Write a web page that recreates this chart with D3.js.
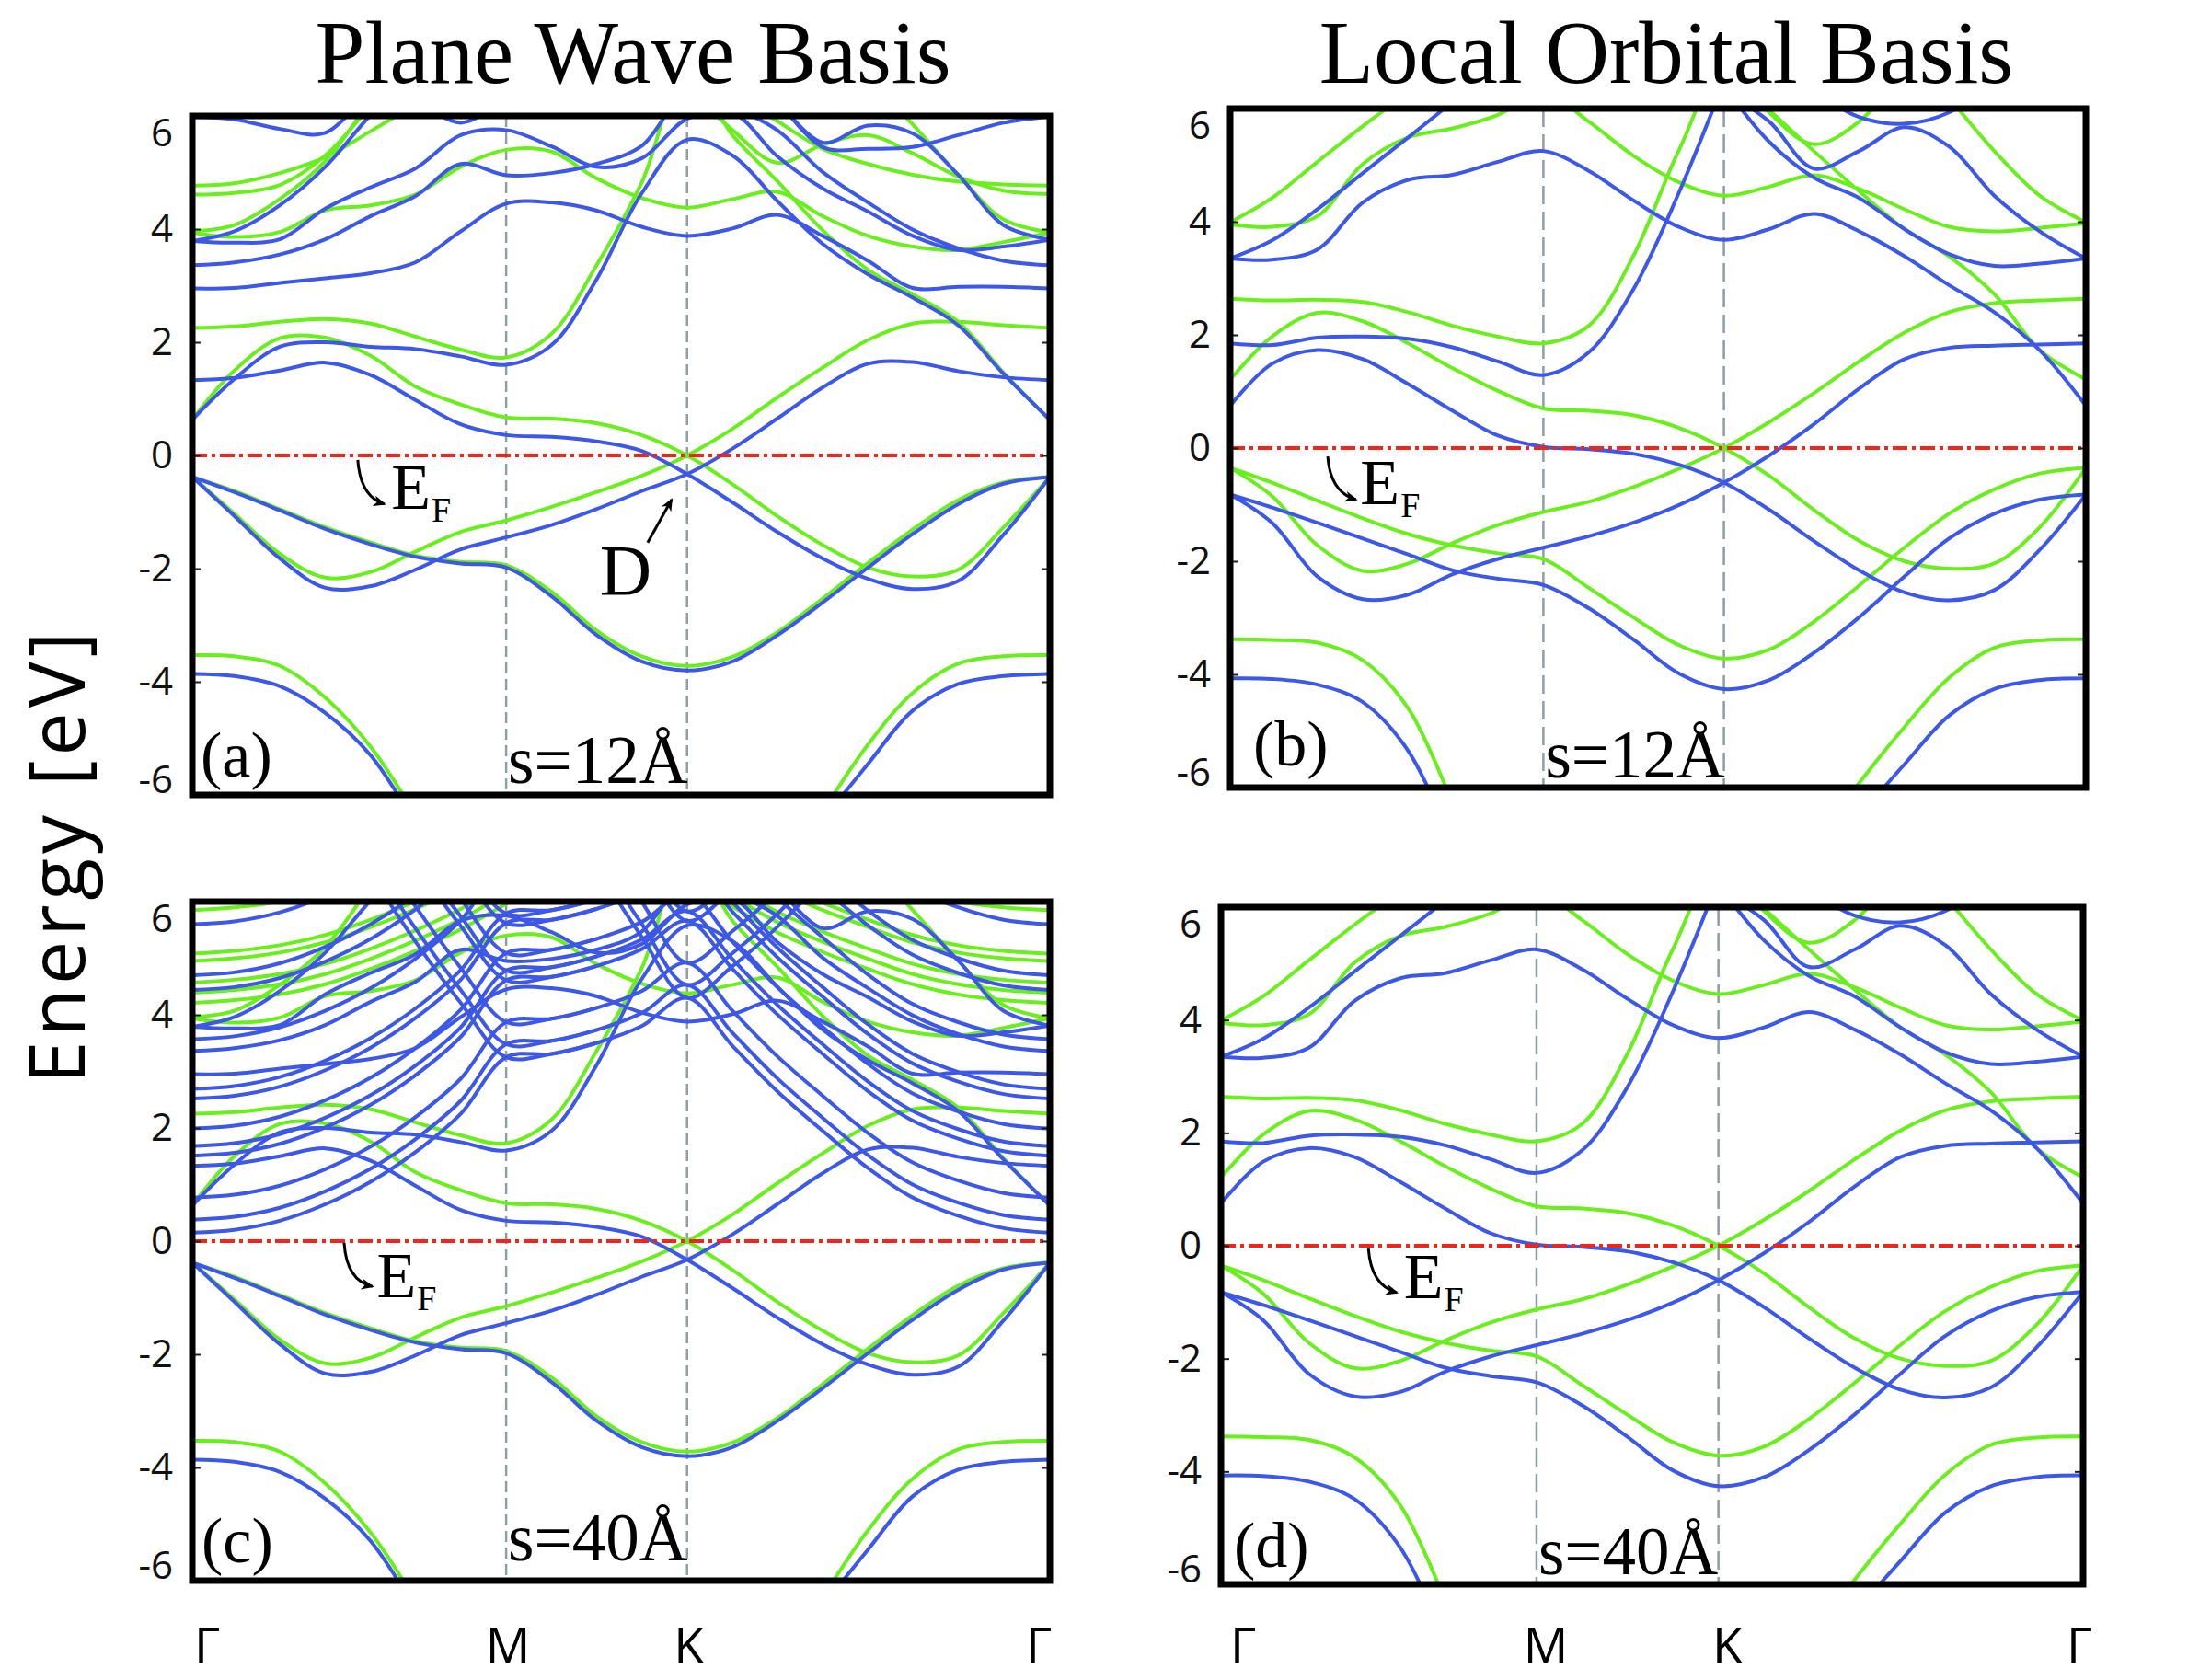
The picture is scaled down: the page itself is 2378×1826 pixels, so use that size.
<!DOCTYPE html>
<meta charset="utf-8">
<head>
  <style>
    body { margin: 0; background: #fff; }
    svg { display: block; background: #fff; }
    .band { fill: none; stroke-width: 4; stroke-linejoin: round; stroke-linecap: round; }
    .band.green { stroke: #6bee1e; }
    .band.blue { stroke: #3d58e6; }
    .sym-line { stroke: #8e9ea6; stroke-width: 2.5; fill: none; }
    .fermi { stroke: #f6231b; stroke-width: 4; stroke-dasharray: 16 5 4 5; }
    .frame { fill: none; stroke: #000; stroke-width: 7; }
    .axis text { font-family: "Open Sans", sans-serif; font-size: 42px; fill: #111; }
    .axis line { stroke: #222; stroke-width: 2; }
    .serif { font-family: "Liberation Serif", "Times New Roman", serif; fill: #000; }
    .sans { font-family: "Open Sans", sans-serif; fill: #000; }
  </style>
</head>
<body>
  <script src="https://d3js.org/d3.v7.min.js"></script>
  <script>
    const _ = null;

    // k path Γ-M-K-Γ, sampled positions (fraction of path length)
    const kPath = [0, 0.049, 0.102, 0.155, 0.208, 0.26, 0.313, 0.366, 0.419, 0.471,
                   0.524, 0.577, 0.63, 0.682, 0.735, 0.788, 0.84, 0.893, 0.946, 1];
    const kPoints = [0, 0.366, 0.577, 1];
    const kNames = ["Γ", "M", "K", "Γ"];
    const energyTicks = [-6, -4, -2, 0, 2, 4, 6];
    const energyRange = [-6, 6];

    // ---- plane wave basis, s = 12 Å ----
    const pwGreen1 = [-3.53, -3.55, -3.72, -4.28, -5.15, -6.35, _, _, _, _, _, _, _, _, -6.3, -5.11, -4.2, -3.68, -3.55, -3.53];
    const pwBlue1  = [-3.86, -3.9, -4.08, -4.55, -5.3, -6.5, _, _, _, _, _, _, _, _, -6.45, -5.45, -4.51, -4.04, -3.9, -3.86];
    const pwGreen2 = [-0.38, -0.63, -0.95, -1.27, -1.54, -1.77, -1.88, -1.94, -2.41, -3.09, -3.55, -3.72, -3.56, -3.13, -2.53, -1.9, -1.31, -0.79, -0.48, -0.38];
    const pwBlue2  = [-0.38, -0.65, -0.97, -1.3, -1.57, -1.79, -1.91, -1.98, -2.49, -3.17, -3.64, -3.8, -3.64, -3.18, -2.6, -1.98, -1.39, -0.86, -0.5, -0.38];
    const pwGreen3 = [-0.38, -1.03, -1.74, -2.16, -2.06, -1.7, -1.35, -1.15, -0.91, -0.65, -0.36, 0, 0.47, 1.02, 1.55, 2.04, 2.33, 2.36, 2.3, 2.25];
    const pwBlue3  = [-0.38, -1.07, -1.82, -2.34, -2.31, -2.02, -1.66, -1.45, -1.23, -0.95, -0.63, -0.33, 0.12, 0.65, 1.2, 1.62, 1.65, 1.49, 1.38, 1.33];
    const pwGreen4 = [0.63, 1.5, 2.07, 2.08, 1.76, 1.22, 0.9, 0.67, 0.65, 0.57, 0.36, 0, -0.51, -1.07, -1.58, -1.98, -2.14, -2.02, -1.27, -0.38];
    const pwBlue4  = [1.33, 1.37, 1.5, 1.64, 1.42, 0.98, 0.55, 0.36, 0.33, 0.25, 0.08, -0.33, -0.83, -1.35, -1.82, -2.18, -2.36, -2.22, -1.4, -0.38];
    const pwGreen5 = [2.25, 2.28, 2.36, 2.41, 2.33, 2.1, 1.87, 1.73, 2.15, 3.35, 4.82, 6.8, 5.66, 4.85, 3.98, 3.28, 2.85, 2.36, 1.46, 0.63];
    const pwBlue5  = [0.63, 1.35, 1.92, 2.0, 1.92, 1.88, 1.75, 1.6, 1.95, 3.1, 4.63, 5.58, 5.3, 4.5, 3.74, 3.2, 2.79, 2.3, 1.44, 0.63];
    const pwGreen6 = [3.94, 3.86, 3.95, 4.33, 4.42, 4.61, 5.1, 5.4, 5.37, 4.9, 4.55, 4.38, 4.53, 4.66, 4.23, 3.88, 3.69, 3.63, 3.77, 3.94];
    const pwGreen7 = [3.96, 4.07, 4.53, 5.2, 6.3, _, _, _, _, _, _, _, _, _, _, 6.7, 5.85, 4.96, 4.17, 3.94];
    const pwGreen8 = [4.77, 4.81, 4.99, 5.27, 5.73, 6.2, _, _, _, _, _, _, 6.4, 5.91, 5.42, 5.15, 4.96, 4.84, 4.79, 4.77];
    const pwGreen9 = [4.61, 4.64, 4.78, 5.3, 6.2, _, _, _, _, _, _, 6.5, 5.75, 5.17, 5.49, 5.66, 5.34, 4.93, 4.68, 4.62];
    const pwBlue6  = [2.95, 2.96, 3.05, 3.13, 3.22, 3.41, 3.96, 4.45, 4.47, 4.33, 4.04, 3.88, 4.01, 4.25, 3.88, 3.44, 2.96, 2.98, 2.98, 2.95];
    const pwBlue7  = [3.36, 3.41, 3.55, 3.82, 4.23, 4.58, 5.15, 4.95, 4.99, 5.15, 5.47, 6.4, 6.15, 5.75, 5.01, 4.47, 3.99, 3.66, 3.44, 3.36];
    const pwBlue8  = [3.79, 3.76, 3.82, 4.36, 4.74, 5.07, 5.66, 5.75, 5.46, 5.1, 5.25, 5.95, 6.05, 5.29, 4.72, 4.31, 3.88, 3.63, 3.69, 3.81];
    const pwBlue9  = [3.79, 3.96, 4.42, 5.1, 6.02, 6.8, _, _, _, _, _, _, _, 6.3, 5.53, 5.83, 5.69, 4.96, 4.07, 3.81];
    const pwBlue10 = [5.98, 5.94, 5.77, 5.7, 6.5, _, _, _, _, _, _, _, _, 6.3, 5.45, 5.42, 5.45, 5.66, 5.88, 5.99];
    const pwBlue11 = [_, _, _, _, _, 6.3, 5.88, 6.3, _, _, _, _, _, _, _, _, _, _, _, _];

    // ---- plane wave basis, s = 40 Å: extra slab / vacuum states ----
    const pw40BlueRise = [
      [0.15, 0.2, 0.36, 0.65, 1.05, 1.57, 2.25, 3.25, 3.31, 3.5, 3.8, 4.3, 3.45, 2.65, 1.95, 1.29, 0.77, 0.45, 0.23, 0.15],
      [0.38, 0.43, 0.59, 0.88, 1.28, 1.8, 2.48, 3.48, 3.54, 3.73, 4.03, 4.53, 3.68, 2.88, 2.18, 1.52, 1.0, 0.68, 0.46, 0.38],
      [0.77, 0.82, 0.98, 1.27, 1.67, 2.19, 2.87, 3.87, 3.93, 4.12, 4.42, 4.92, 4.07, 3.27, 2.57, 1.91, 1.39, 1.07, 0.85, 0.77],
      [1.51, 1.56, 1.72, 2.01, 2.41, 2.93, 3.61, 4.61, 4.67, 4.86, 5.16, 5.66, 4.81, 4.01, 3.31, 2.65, 2.13, 1.81, 1.59, 1.51],
      [1.68, 1.73, 1.89, 2.18, 2.58, 3.1, 3.78, 4.78, 4.84, 5.03, 5.33, 5.83, 4.98, 4.18, 3.48, 2.82, 2.3, 1.98, 1.76, 1.68],
      [1.99, 2.04, 2.2, 2.49, 2.89, 3.41, 4.09, 5.09, 5.15, 5.34, 5.64, 6.14, 5.29, 4.49, 3.79, 3.13, 2.61, 2.29, 2.07, 1.99],
      [2.52, 2.57, 2.73, 3.02, 3.42, 3.94, 4.62, 5.62, 5.68, 5.87, 6.17, 6.67, 5.82, 5.02, 4.32, 3.66, 3.14, 2.82, 2.6, 2.52],
      [2.69, 2.74, 2.9, 3.19, 3.59, 4.11, 4.79, 5.79, 5.85, 6.04, 6.34, 6.84, 5.99, 5.19, 4.49, 3.83, 3.31, 2.99, 2.77, 2.69],
      [3.57, 3.62, 3.78, 4.07, 4.47, 4.99, 5.67, 6.67, 6.73, 6.92, 7.22, 7.72, 6.87, 6.07, 5.37, 4.71, 4.19, 3.87, 3.65, 3.57],
      [4.44, 4.49, 4.65, 4.94, 5.34, 5.86, 6.54, 7.54, 7.6, 7.79, 8.09, 8.59, 7.74, 6.94, 6.24, 5.58, 5.06, 4.74, 4.52, 4.44],
      [4.7, 4.75, 4.91, 5.2, 5.6, 6.12, 6.8, 7.8, 7.86, 8.05, 8.35, 8.85, 8.0, 7.2, 6.5, 5.84, 5.32, 5.0, 4.78, 4.7],
      [5.6, 5.65, 5.81, 6.1, 6.5, 7.02, 7.7, 8.7, 8.76, 8.95, 9.25, 9.75, 8.9, 8.1, 7.4, 6.74, 6.22, 5.9, 5.68, 5.6]
    ];
    const pw40BlueFoldM = [
      [_, _, _, _, 6.49, 5.3, 4.21, 3.25, 3.31, 3.5, _, _, _, _, _, _, _, _, _, _],
      [_, _, _, _, 6.72, 5.53, 4.44, 3.48, 3.54, 3.73, _, _, _, _, _, _, _, _, _, _],
      [_, _, _, _, 7.11, 5.92, 4.83, 3.87, 3.93, 4.12, _, _, _, _, _, _, _, _, _, _],
      [_, _, _, _, 7.85, 6.66, 5.57, 4.61, 4.67, 4.86, _, _, _, _, _, _, _, _, _, _],
      [_, _, _, _, 8.02, 6.83, 5.74, 4.78, 4.84, 5.03, _, _, _, _, _, _, _, _, _, _],
      [_, _, _, _, 8.33, 7.14, 6.05, 5.09, 5.15, 5.34, _, _, _, _, _, _, _, _, _, _],
      [_, _, _, _, 8.86, 7.67, 6.58, 5.62, 5.68, 5.87, _, _, _, _, _, _, _, _, _, _],
      [_, _, _, _, 9.03, 7.84, 6.75, 5.79, 5.85, 6.04, _, _, _, _, _, _, _, _, _, _]
    ];
    const pw40BlueFoldK = [
      [_, _, _, _, _, _, _, _, _, 6.62, 5.38, 4.3, 4.86, 5.55, 6.39, _, _, _, _, _],
      [_, _, _, _, _, _, _, _, _, 6.85, 5.61, 4.53, 5.09, 5.78, 6.62, _, _, _, _, _],
      [_, _, _, _, _, _, _, _, _, 7.24, 6.0, 4.92, 5.48, 6.17, 7.01, _, _, _, _, _],
      [_, _, _, _, _, _, _, _, _, 7.98, 6.74, 5.66, 6.22, 6.91, 7.75, _, _, _, _, _],
      [_, _, _, _, _, _, _, _, _, 8.15, 6.91, 5.83, 6.39, 7.08, 7.92, _, _, _, _, _]
    ];
    const pw40GreenRise = [
      [4.21, 4.26, 4.36, 4.54, 4.81, 5.13, 5.51, 5.96, 6.41, _, _, 6.41, 5.91, 5.46, 5.11, 4.81, 4.54, 4.36, 4.26, 4.21],
      [4.39, 4.44, 4.54, 4.72, 4.99, 5.31, 5.69, 6.14, 6.59, _, _, 6.59, 6.09, 5.64, 5.29, 4.99, 4.72, 4.54, 4.44, 4.39],
      [4.57, 4.62, 4.72, 4.9, 5.17, 5.49, 5.87, 6.32, 6.77, _, _, 6.77, 6.27, 5.82, 5.47, 5.17, 4.9, 4.72, 4.62, 4.57],
      [4.95, 5.0, 5.1, 5.28, 5.55, 5.87, 6.25, 6.7, 7.15, _, _, 7.15, 6.65, 6.2, 5.85, 5.55, 5.28, 5.1, 5.0, 4.95],
      [5.08, 5.13, 5.23, 5.41, 5.68, 6.0, 6.38, 6.83, 7.28, _, _, 7.28, 6.78, 6.33, 5.98, 5.68, 5.41, 5.23, 5.13, 5.08],
      [5.85, 5.9, 6.0, 6.18, 6.45, 6.77, 7.15, 7.6, 8.05, _, _, 8.05, 7.55, 7.1, 6.75, 6.45, 6.18, 6.0, 5.9, 5.85]
    ];

    // ---- local orbital basis (s = 12 Å and s = 40 Å look the same) ----
    const loGreen1 = [-3.38, -3.39, -3.44, -3.75, -4.6, -6.3, _, _, _, _, _, _, _, -7.0, -5.92, -4.93, -4.06, -3.53, -3.4, -3.38];
    const loBlue1  = [-4.07, -4.08, -4.18, -4.49, -5.35, -7.0, _, _, _, _, _, _, _, _, -6.5, -5.59, -4.73, -4.26, -4.1, -4.07];
    const loGreen2 = [-0.35, -0.61, -0.93, -1.24, -1.52, -1.72, -1.86, -1.96, -2.47, -2.99, -3.48, -3.72, -3.56, -3.07, -2.43, -1.76, -1.16, -0.73, -0.45, -0.35];
    const loBlue2  = [-0.82, -1.05, -1.32, -1.6, -1.88, -2.16, -2.31, -2.42, -2.83, -3.38, -3.98, -4.26, -4.1, -3.62, -2.99, -2.27, -1.6, -1.16, -0.91, -0.82];
    const loGreen3 = [-0.35, -0.85, -1.72, -2.17, -2.04, -1.68, -1.36, -1.13, -0.95, -0.69, -0.37, 0, 0.46, 0.97, 1.53, 2.04, 2.4, 2.56, 2.61, 2.64];
    const loBlue3  = [-0.82, -1.32, -2.27, -2.67, -2.59, -2.23, -1.96, -1.76, -1.56, -1.32, -1.01, -0.61, -0.13, 0.42, 1.05, 1.57, 1.77, 1.81, 1.83, 1.85];
    const loGreen4 = [1.21, 1.97, 2.39, 2.24, 1.85, 1.41, 1.01, 0.7, 0.66, 0.58, 0.36, 0, -0.49, -1.09, -1.64, -2.0, -2.13, -2.04, -1.4, -0.35];
    const loBlue4  = [0.75, 1.49, 1.73, 1.57, 1.13, 0.66, 0.22, 0.02, -0.02, -0.1, -0.29, -0.61, -1.09, -1.64, -2.16, -2.55, -2.69, -2.51, -1.8, -0.82];
    const loBlue5  = [1.85, 1.82, 1.95, 1.97, 1.93, 1.78, 1.53, 1.29, 1.69, 2.8, 4.5, 6.48, _, _, _, _, _, _, _, _];
    const loGreen5 = [2.64, 2.61, 2.62, 2.58, 2.4, 2.16, 1.97, 1.85, 2.16, 3.39, 5.25, 6.7, 5.97, 5.25, 4.54, 3.87, 3.39, 2.72, 1.73, 1.21];
    const loGreen6 = [3.95, 3.91, 4.1, 5.02, 5.49, 5.65, 5.89, 6.28, 5.77, 5.17, 4.7, 4.46, 4.62, 4.82, 4.58, 4.22, 3.91, 3.83, 3.89, 3.97];
    const loGreen7 = [3.99, 4.42, 5.06, 5.69, 6.28, _, _, _, _, _, _, _, _, _, _, _, 6.2, 5.25, 4.46, 3.99];
    const loGreen8 = [_, _, _, _, _, _, _, _, _, _, _, 6.9, 5.93, 5.37, 5.77, 6.7, _, _, _, _];
    const loBlue6  = [3.35, 3.33, 3.51, 4.34, 4.74, 4.83, 5.06, 5.25, 4.9, 4.38, 3.91, 3.68, 3.87, 4.14, 3.83, 3.39, 2.88, 2.4, 1.73, 0.75];
    const loBlue7  = [3.35, 3.67, 4.22, 4.86, 5.49, 6.12, 6.8, _, _, _, _, 6.3, 5.77, 4.94, 5.25, 5.67, 5.33, 4.46, 3.83, 3.35];
    const loBlue8  = [_, _, _, _, _, _, _, _, _, _, _, 6.4, 5.41, 4.78, 4.42, 3.87, 3.43, 3.22, 3.26, 3.35];
    const loBlue9  = [_, _, _, _, _, _, _, _, _, _, _, _, _, 6.3, 5.85, 5.73, 5.93, 6.5, _, _];

    const pwGreen12 = [pwGreen1, pwGreen2, pwGreen3, pwGreen4, pwGreen5, pwGreen6, pwGreen7, pwGreen8, pwGreen9];
    const pwBlue12 = [pwBlue1, pwBlue2, pwBlue3, pwBlue4, pwBlue5, pwBlue6, pwBlue7, pwBlue8, pwBlue9, pwBlue10, pwBlue11];
    const pwGreen40 = [pwGreen1, pwGreen2, pwGreen3, pwGreen4, pwGreen5, pwGreen6, pwGreen7].concat(pw40GreenRise);
    const pwBlue40 = [pwBlue1, pwBlue2, pwBlue3, pwBlue4, pwBlue5, pwBlue6, pwBlue7, pwBlue8, pwBlue9]
      .concat(pw40BlueRise, pw40BlueFoldM, pw40BlueFoldK);
    const loGreen = [loGreen1, loGreen2, loGreen3, loGreen4, loGreen5, loGreen6, loGreen7, loGreen8];
    const loBlue = [loBlue1, loBlue2, loBlue3, loBlue4, loBlue5, loBlue6, loBlue7, loBlue8, loBlue9];

    const width = 2378, height = 1826;
    const svg = d3.select("body").append("svg")
      .attr("width", width)
      .attr("height", height);

    const defs = svg.append("defs");
    defs.append("marker")
      .attr("id", "arrowhead")
      .attr("viewBox", "0 0 14 12")
      .attr("refX", 12).attr("refY", 6)
      .attr("markerWidth", 14).attr("markerHeight", 12)
      .attr("markerUnits", "userSpaceOnUse")
      .attr("orient", "auto")
      .append("path")
      .attr("d", "M0,0 L14,6 L0,12 L4,6 Z")
      .attr("fill", "#000");

    const panels = [
      { id: "a", x0: 209, x1: 1141, y0: 126, y1: 864, green: pwGreen12, blue: pwBlue12, dash: "12 6",
        tag: "(a)", tagDx: 9, tagDy: 20, sep: "s=12Å", sepDy: 13,
        ef: { from: [0.193, -0.08], ctrl: [0.196, -0.73], to: [0.224, -0.86], text: [0.232, -0.94] },
        dirac: { text: [0.475, -2.46], from: [0.531, -1.54], to: [0.559, -0.78] } },
      { id: "b", x0: 1337, x1: 2267, y0: 118, y1: 856, green: loGreen, blue: loBlue, dash: "20 8",
        tag: "(b)", tagDx: 25, tagDy: 24, sep: "s=12Å", sepDy: 11,
        ef: { from: [0.114, -0.15], ctrl: [0.117, -0.78], to: [0.147, -0.91], text: [0.152, -0.99] } },
      { id: "c", x0: 209, x1: 1141, y0: 980, y1: 1718, green: pwGreen40, blue: pwBlue40, dash: "12 6",
        tag: "(c)", tagDx: 10, tagDy: 20, sep: "s=40Å", sepDy: 22,
        ef: { from: [0.177, -0.03], ctrl: [0.18, -0.7], to: [0.21, -0.8], text: [0.215, -0.99] },
        labelShift: 2 },
      { id: "d", x0: 1327, x1: 2264, y0: 986, y1: 1722, green: loGreen, blue: loBlue, dash: "20 8",
        tag: "(d)", tagDx: 14, tagDy: 19, sep: "s=40Å", sepDy: 11,
        ef: { from: [0.171, -0.05], ctrl: [0.174, -0.7], to: [0.204, -0.83], text: [0.212, -0.93] },
        labelShift: 10 }
    ];

    panels.forEach(p => {
      const x = d3.scaleLinear().domain([0, 1]).range([p.x0, p.x1]);
      const y = d3.scaleLinear().domain(energyRange).range([p.y1, p.y0]);
      const g = svg.append("g").attr("class", "panel-" + p.id);

      defs.append("clipPath").attr("id", "clip-" + p.id)
        .append("rect")
        .attr("x", p.x0).attr("y", p.y0)
        .attr("width", p.x1 - p.x0).attr("height", p.y1 - p.y0);

      const plot = g.append("g").attr("clip-path", `url(#clip-${p.id})`);

      // high symmetry lines at M and K
      plot.selectAll("line.sym-line")
        .data(kPoints.slice(1, 3))
        .join("line")
        .attr("class", "sym-line")
        .attr("x1", d => x(d)).attr("x2", d => x(d))
        .attr("y1", p.y0).attr("y2", p.y1)
        .attr("stroke-dasharray", p.dash);

      const line = d3.line()
        .defined(d => d[1] != null)
        .x(d => x(d[0]))
        .y(d => y(d[1]))
        .curve(d3.curveCatmullRom.alpha(0.5));
      const toPoints = band => kPath.map((k, i) => [k, band[i]]);

      plot.selectAll("path.green")
        .data(p.green)
        .join("path")
        .attr("class", "band green")
        .attr("d", b => line(toPoints(b)));

      plot.selectAll("path.blue")
        .data(p.blue)
        .join("path")
        .attr("class", "band blue")
        .attr("d", b => line(toPoints(b)));

      // Fermi level
      plot.append("line")
        .attr("class", "fermi")
        .attr("x1", p.x0).attr("x2", p.x1)
        .attr("y1", y(0)).attr("y2", y(0));

      // axes: labels on the left, inner ticks on both sides
      const left = g.append("g")
        .attr("class", "axis")
        .attr("transform", `translate(${p.x0},0)`)
        .call(d3.axisLeft(y).tickValues(energyTicks).tickSizeInner(-9).tickSizeOuter(0)
          .tickPadding(21).tickFormat(d => String(d)));
      left.select(".domain").remove();
      left.selectAll("text")
        .attr("dy", d => d === 6 ? "0.77em" : d === -6 ? "-0.06em" : "0.32em");

      const right = g.append("g")
        .attr("class", "axis")
        .attr("transform", `translate(${p.x1},0)`)
        .call(d3.axisRight(y).tickValues(energyTicks).tickSizeInner(-9).tickSizeOuter(0).tickFormat(""));
      right.select(".domain").remove();

      g.append("rect")
        .attr("class", "frame")
        .attr("x", p.x0).attr("y", p.y0)
        .attr("width", p.x1 - p.x0).attr("height", p.y1 - p.y0);

      // panel tag and separation
      g.append("text").attr("class", "serif")
        .attr("x", p.x0 + p.tagDx).attr("y", p.y1 - p.tagDy)
        .attr("font-size", 70)
        .text(p.tag);
      g.append("text").attr("class", "serif")
        .attr("x", x(kPoints[1]) + 2).attr("y", p.y1 - p.sepDy)
        .attr("font-size", 73)
        .text(p.sep);

      // E_F annotation
      const ef = p.ef;
      g.append("path")
        .attr("d", `M${x(ef.from[0])},${y(ef.from[1])} Q${x(ef.ctrl[0])},${y(ef.ctrl[1])} ${x(ef.to[0])},${y(ef.to[1])}`)
        .attr("fill", "none").attr("stroke", "#000").attr("stroke-width", 3)
        .attr("marker-end", "url(#arrowhead)");
      const efText = g.append("text").attr("class", "serif")
        .attr("x", x(ef.text[0])).attr("y", y(ef.text[1]))
        .attr("font-size", 70)
        .text("E");
      efText.append("tspan").attr("font-size", 38).attr("dx", 1).attr("dy", 14).text("F");

      // Dirac point marker
      if (p.dirac) {
        g.append("text").attr("class", "serif")
          .attr("x", x(p.dirac.text[0])).attr("y", y(p.dirac.text[1]))
          .attr("font-size", 78)
          .text("D");
        g.append("line")
          .attr("x1", x(p.dirac.from[0])).attr("y1", y(p.dirac.from[1]))
          .attr("x2", x(p.dirac.to[0])).attr("y2", y(p.dirac.to[1]))
          .attr("stroke", "#000").attr("stroke-width", 3)
          .attr("marker-end", "url(#arrowhead)");
      }

      // high symmetry labels under the bottom row
      if (p.labelShift != null) {
        g.selectAll("text.kname")
          .data(kPoints)
          .join("text")
          .attr("class", "kname sans")
          .attr("x", d => x(d) + p.labelShift)
          .attr("y", 1808)
          .attr("font-size", 54)
          .attr("text-anchor", (d, i) => i === 0 ? "start" : i === kPoints.length - 1 ? "end" : "middle")
          .text((d, i) => kNames[i]);
      }
    });

    // column titles
    svg.append("text").attr("class", "serif")
      .attr("x", 688).attr("y", 90)
      .attr("text-anchor", "middle")
      .attr("font-size", 97)
      .text("Plane Wave Basis");
    svg.append("text").attr("class", "serif")
      .attr("x", 1811).attr("y", 90)
      .attr("text-anchor", "middle")
      .attr("font-size", 97)
      .text("Local Orbital Basis");

    // shared y label
    svg.append("text").attr("class", "sans")
      .attr("transform", "translate(92,930) rotate(-90)")
      .attr("text-anchor", "middle")
      .attr("font-size", 84)
      .attr("letter-spacing", 5)
      .text("Energy [eV]");
  </script>
</body>
